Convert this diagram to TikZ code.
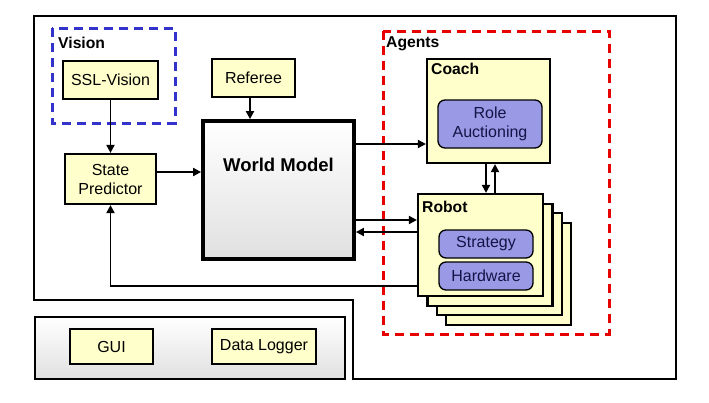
\documentclass[tikz,border=0pt]{standalone}
\usepackage{fontspec}
\setmainfont{Liberation Sans}
\usetikzlibrary{arrows.meta,calc}
\definecolor{boxyellow}{RGB}{255,255,204}
\definecolor{boxviolet}{RGB}{153,153,230}
\definecolor{navytext}{RGB}{20,20,70}
\definecolor{visionblue}{RGB}{51,51,204}
\definecolor{agentred}{RGB}{230,0,0}
\tikzset{
  every node/.style={font=\fontsize{16}{19}\selectfont},
  ybox/.style={draw=black, line width=2.2pt, fill=boxyellow, inner sep=0pt, align=center},
  vbox/.style={draw=black, line width=1.3pt, fill=boxviolet, rounded corners=7pt, inner sep=0pt, align=center, text=navytext},
  grp/.style={line width=3pt, dash pattern=on 9pt off 6pt},
  lbl/.style={anchor=west, inner sep=0pt, font=\fontsize{15.7}{18}\selectfont\bfseries},
  arr/.style={line width=1.9pt, -{Triangle[length=8pt,width=8pt]}},
}
\begin{document}
\begin{tikzpicture}[x=1pt,y=-1pt]
\useasboundingbox (0,0) rectangle (709,402);
% outer frame
\draw[line width=2.8pt] (34,16) -- (676,16) -- (676,379) -- (353,379) -- (353,300) -- (34,300) -- cycle;
% bottom panel
\node[draw=black, line width=2.8pt, top color=white, bottom color=black!12, minimum width=310pt, minimum height=62pt, inner sep=0pt] (panel) at (190,348) {};
\node[ybox, minimum width=83pt, minimum height=35pt] (gui) at (111.5,346.5) {GUI};
\node[ybox, minimum width=104pt, minimum height=35pt] (logger) at (264,346.5) {Data Logger};
% vision group
\draw[grp, visionblue] (52,28) rectangle (175,123);
\node[lbl] (visionlbl) at (58,43) {Vision};
\node[ybox, minimum width=95pt, minimum height=38pt] (ssl) at (110.5,80) {SSL-Vision};
% referee
\node[ybox, minimum width=83pt, minimum height=38pt] (ref) at (253.5,78) {Referee};
% state predictor
\node[ybox, minimum width=91pt, minimum height=50pt] (sp) at (110.5,179) {State\\Predictor};
% world model
\node[draw=black, line width=3.8pt, top color=white, bottom color=black!12, minimum width=151pt, minimum height=138pt, inner sep=0pt] (wm) at (278.5,190) {};
\node[font=\fontsize{18.5}{22}\selectfont\bfseries, inner sep=0pt] (wmtext) at ($(wm.north)+(0,46)$) {World Model};
% agents group
\draw[grp, agentred] (383,31) rectangle (609,334);
\node[lbl] (agentslbl) at (386,44) {Agents};
% coach
\node[ybox, minimum width=123pt, minimum height=104pt] (coach) at (488.5,111) {};
\node[lbl] (coachlbl) at (431,69) {Coach};
\node[vbox, minimum width=104pt, minimum height=48pt] (role) at (490,124) {Role\\Auctioning};
% robot stack
\foreach \k in {3,2,1} {
  \node[ybox, minimum width=125pt, minimum height=102pt] (robot\k) at ($(480.5,245)+(9.4*\k,9.6*\k)$) {};
}
\node[ybox, minimum width=125pt, minimum height=102pt] (robot) at (480.5,245) {};
\node[lbl] (robotlbl) at (422,207) {Robot};
\node[vbox, minimum width=94pt, minimum height=28pt] (strategy) at (486,244) {Strategy};
\node[vbox, minimum width=94pt, minimum height=28pt] (hardware) at (486,276) {Hardware};
% connectors
\draw[arr] (ssl.south) -- (sp.north);
\coordinate (refout) at ($(ref.south)+(-3.5,0)$);
\draw[arr] (refout) -- (refout |- wm.north);
\coordinate (spout) at ($(sp.east)+(0,-7)$);
\draw[arr] (spout) -- (spout -| wm.west);
\coordinate (cin) at ($(coach.west)+(0,33)$);
\draw[arr] (wm.east |- cin) -- (cin);
\coordinate (cdown) at ($(coach.south)+(-2.5,0)$);
\coordinate (cup) at ($(coach.south)+(6.5,0)$);
\draw[arr] (cdown) -- (cdown |- robot.north);
\draw[arr] (cup |- robot.north) -- (cup);
\coordinate (rin) at ($(robot.west)+(0,-25)$);
\coordinate (rout) at ($(robot.west)+(0,-13)$);
\coordinate (rfb) at ($(robot.west)+(0,41)$);
\draw[arr] (wm.east |- rin) -- (rin);
\draw[arr] (rout) -- (wm.east |- rout);
\draw[arr] (rfb) -| (sp.south);
\end{tikzpicture}
\end{document}
